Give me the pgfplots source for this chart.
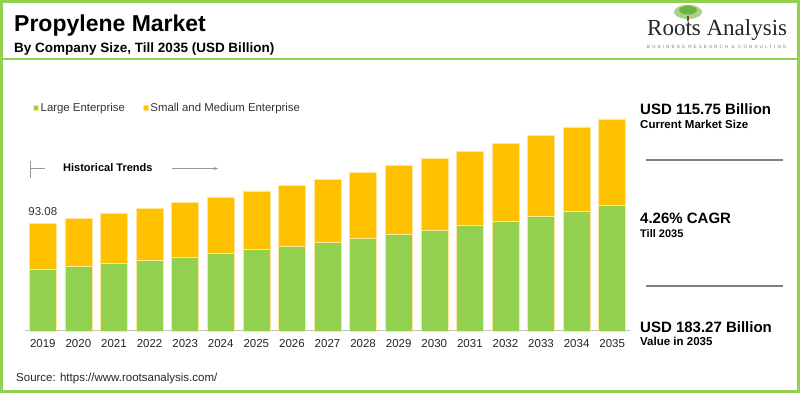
\documentclass[border=0pt]{standalone}
\usepackage{pgfplots}
\pgfplotsset{compat=1.18}
\usepackage{pgfplotstable}
\usepackage{fontspec}
\setmainfont{Liberation Sans}
\newfontfamily\logofont{Liberation Serif}
\usetikzlibrary{arrows.meta}
\definecolor{lgreen}{HTML}{92D050}
\definecolor{lyellow}{HTML}{FFC000}
\definecolor{axgray}{HTML}{BFBFBF}
\definecolor{txtgray}{HTML}{7F7F7F}
\definecolor{treegreen}{HTML}{6DB33F}

\pgfplotstableread{
x year large sme
0 2019 53.6 39.48
1 2020 55.6 41.8
2 2021 58.5 43.2
3 2022 60.7 45.3
4 2023 63.9 47.0
5 2024 67.1 48.65
6 2025 70.2 50.8
7 2026 73.4 52.2
8 2027 76.3 55.0
9 2028 80.1 56.7
10 2029 83.2 60.0
11 2030 87.0 62.2
12 2031 91.3 64.2
13 2032 94.8 67.4
14 2033 99.1 70.0
15 2034 103.4 72.9
16 2035 108.3 74.97
}\datatable

\begin{document}
\begin{tikzpicture}[x=1pt,y=1pt]
\useasboundingbox (0,0) rectangle (800,393);
\fill[white] (0,0) rectangle (800,393);

\begin{axis}[
  at={(25pt,62pt)}, anchor=south west,
  width=605pt, height=231.5pt, scale only axis,
  xmin=-0.5, xmax=16.5, ymin=0, ymax=200,
  axis x line*=bottom, axis y line=none,
  x axis line style={axgray, line width=1pt, -},
  ybar stacked, bar width=27pt,
  xtick=data, xticklabels from table={\datatable}{year},
  xtick style={draw=none}, ytick=\empty,
  major tick length=0pt,
  xticklabel style={anchor=base, yshift=-16.7pt, font=\fontsize{11.5}{13}\selectfont, text=black!85},
  clip=false,
  legend style={at={(0.0132,0.963)}, anchor=west, draw=none, fill=none,
    legend columns=2, font=\fontsize{11.4}{13}\selectfont, text=black!80,
    /tikz/every even column/.append style={column sep=16pt}, inner sep=0pt},
  legend cell align=left,
  legend image code/.code={\fill[#1] (0pt,-2.5pt) rectangle (5pt,2.5pt);},
]
\addplot[fill=lgreen, draw=lyellow!40!white, line width=0.5pt] table[x=x, y=large] {\datatable};
\addplot[fill=lyellow, draw=lyellow!40!white, line width=0.5pt] table[x=x, y=sme] {\datatable};
\legend{Large Enterprise, Small and Medium Enterprise}
\node[anchor=base, font=\fontsize{11.5}{13}\selectfont, text=black!80, yshift=8pt] at (axis cs:0,93.08) {93.08};
\end{axis}

% border and header line
\draw[lgreen, line width=3pt] (1.5,1.5) rectangle (798.5,391.5);
\draw[lgreen, line width=2pt] (3,334) -- (797,334);

% titles
\node[anchor=base west, inner sep=0, font=\fontsize{23}{26}\selectfont\bfseries] at (14,361) {Propylene Market};
\node[anchor=base west, inner sep=0, font=\fontsize{13.5}{16}\selectfont\bfseries] at (14,340.5) {By Company Size, Till 2035 (USD Billion)};

% logo
\draw[txtgray!50, line width=0.4pt] (688,372) -- (680,361) (688,372) -- (696,361) (688,372) -- (688,360);
\fill[treegreen!60!white] (688,381) ellipse (14 and 7);
\fill[treegreen] (688,383) ellipse (9 and 4.5);
\draw[brown!60!black, line width=1.2pt] (688,377) -- (688,372);
\node[anchor=base west, inner sep=0, font=\logofont\fontsize{23}{26}\selectfont, text=black!85] at (647,357) {Roots Analysis};
\node[anchor=base west, inner sep=0, font=\fontsize{4.6}{6}\selectfont\addfontfeatures{LetterSpace=45}, text=txtgray] at (647,344) {BUSINESS RESEARCH \& CONSULTING};

% historical trends
\draw[txtgray!80, line width=0.7pt] (30.5,232) -- (30.5,215);
\draw[txtgray!80, line width=0.7pt] (30.5,224.5) -- (45,224.5);
\node[anchor=base west, inner sep=0, font=\fontsize{11}{13}\selectfont\bfseries] at (63,221) {Historical Trends};
\draw[txtgray!80, line width=0.7pt, -{Stealth[length=4pt,width=3pt]}] (172,224.5) -- (218,224.5);

% right panel
\node[anchor=base west, inner sep=0, font=\fontsize{15}{17}\selectfont\bfseries] at (640,278.5) {USD 115.75 Billion};
\node[anchor=base west, inner sep=0, font=\fontsize{11.5}{13}\selectfont\bfseries] at (640,264.7) {Current Market Size};
\draw[txtgray, line width=2pt] (646,232.5) -- (783,232.5);
\node[anchor=base west, inner sep=0, font=\fontsize{15}{17}\selectfont\bfseries] at (640,169) {4.26\% CAGR};
\node[anchor=base west, inner sep=0, font=\fontsize{11}{13}\selectfont\bfseries] at (640,155.3) {Till 2035};
\draw[txtgray, line width=2pt] (646,107) -- (783,107);
\node[anchor=base west, inner sep=0, font=\fontsize{15}{17}\selectfont\bfseries] at (640,60.3) {USD 183.27 Billion};
\node[anchor=base west, inner sep=0, font=\fontsize{11.5}{13}\selectfont\bfseries] at (640,47) {Value in 2035};

% source
\node[anchor=base west, inner sep=0, font=\fontsize{11.5}{13}\selectfont, text=black!85] at (16,11.3) {Source: https://www.rootsanalysis.com/};
\end{tikzpicture}
\end{document}
